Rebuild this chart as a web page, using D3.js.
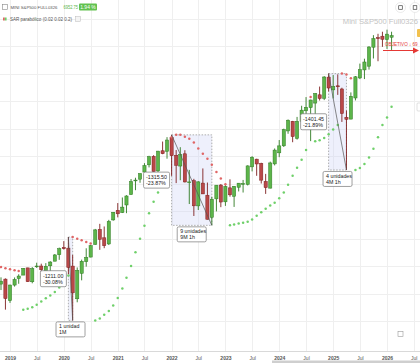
<!DOCTYPE html>
<html>
<head>
<meta charset="utf-8">
<script src="https://cdn.jsdelivr.net/npm/d3@7"></script>
<style>
  body { margin: 0; background: #fff; }
  svg { display: block; font-family: "Liberation Sans", Arial, sans-serif; }
</style>
</head>
<body>
<svg id="chart" width="420" height="363"></svg>
<script>
// monthly candles, Mini S&P500 continuous (back adjusted)
const months = [
  '2018-11', '2018-12',
  '2019-01', '2019-02', '2019-03', '2019-04', '2019-05', '2019-06', '2019-07', '2019-08', '2019-09', '2019-10', '2019-11', '2019-12',
  '2020-01', '2020-02', '2020-03', '2020-04', '2020-05', '2020-06', '2020-07', '2020-08', '2020-09', '2020-10', '2020-11', '2020-12',
  '2021-01', '2021-02', '2021-03', '2021-04', '2021-05', '2021-06', '2021-07', '2021-08', '2021-09', '2021-10', '2021-11', '2021-12',
  '2022-01', '2022-02', '2022-03', '2022-04', '2022-05', '2022-06', '2022-07', '2022-08', '2022-09', '2022-10', '2022-11', '2022-12',
  '2023-01', '2023-02', '2023-03', '2023-04', '2023-05', '2023-06', '2023-07', '2023-08', '2023-09', '2023-10', '2023-11', '2023-12',
  '2024-01', '2024-02', '2024-03', '2024-04', '2024-05', '2024-06', '2024-07', '2024-08', '2024-09', '2024-10', '2024-11', '2024-12',
  '2025-01', '2025-02', '2025-03', '2025-04', '2025-05', '2025-06', '2025-07', '2025-08', '2025-09', '2025-10', '2025-11', '2025-12',
  '2026-01', '2026-02'
];
const open = [
  3342, 3415,
  3102, 3328, 3423, 3473, 3578, 3376, 3596, 3605, 3535, 3608, 3675, 3769,
  3875, 3865, 3604, 3129, 3499, 3668, 3735, 3919, 4138, 4015, 3926, 4275,
  4414, 4382, 4492, 4643, 4843, 4867, 4970, 5076, 5199, 4987, 5280, 5272,
  5470, 5214, 5058, 5236, 4826, 4845, 4479, 4810, 4634, 4313, 4581, 4782,
  4538, 4741, 4619, 4750, 4791, 4791, 5046, 5158, 5096, 4834, 4737, 5089,
  5250, 5352, 5568, 5708, 5460, 5708, 5861, 5907, 5973, 6093, 6043, 6350,
  6165, 6224, 6178, 5766, 5740, 6047, 6338, 6455, 6509, 6785, 6925, 6945,
  6895, 6930
];
const high = [
  3440, 3425,
  3333, 3439, 3485, 3575, 3579, 3589, 3653, 3639, 3647, 3675, 3779, 3873,
  3967, 4026, 3766, 3584, 3698, 3863, 3910, 4144, 4218, 4180, 4276, 4390,
  4520, 4601, 4634, 4869, 4888, 4952, 5100, 5207, 5216, 5278, 5414, 5478,
  5511, 5290, 5332, 5288, 5002, 4872, 4838, 5023, 4818, 4610, 4780, 4796,
  4780, 4865, 4765, 4810, 4856, 5068, 5202, 5164, 5106, 4944, 5122, 5313,
  5436, 5601, 5735, 5714, 5772, 5934, 6060, 6022, 6118, 6213, 6365, 6402,
  6380, 6390, 6196, 5864, 6128, 6366, 6547, 6618, 6800, 6960, 6980, 7010,
  7040, 7010
];
const low = [
  3256, 2971,
  3069, 3306, 3347, 3473, 3375, 3354, 3578, 3447, 3517, 3481, 3675, 3695,
  3844, 3485, 2815, 3078, 3397, 3596, 3731, 3914, 3840, 3864, 3910, 4263,
  4312, 4375, 4373, 4643, 4707, 4815, 4903, 5038, 4976, 4949, 5230, 5165,
  4915, 4810, 4852, 4819, 4506, 4332, 4419, 4653, 4282, 4196, 4399, 4460,
  4479, 4613, 4464, 4689, 4673, 4776, 4980, 4916, 4804, 4653, 4733, 5067,
  5187, 5335, 5527, 5404, 5442, 5644, 5780, 5420, 5752, 6010, 6016, 6143,
  6040, 6092, 5699, 5001, 5738, 6011, 6321, 6322, 6460, 6621, 6581, 6790,
  6760, 6745
];
const close = [
  3385, 3132,
  3329, 3409, 3459, 3571, 3377, 3567, 3605, 3551, 3602, 3663, 3766, 3856,
  3856, 3584, 3215, 3542, 3674, 3730, 3901, 4130, 3993, 3900, 4252, 4386,
  4364, 4461, 4623, 4831, 4854, 4948, 5065, 5193, 4978, 5275, 5237, 5436,
  5208, 5069, 5225, 4827, 4827, 4480, 4828, 4653, 4284, 4576, 4780, 4535,
  4762, 4640, 4764, 4809, 4805, 5060, 5184, 5088, 4853, 4744, 5103, 5290,
  5351, 5586, 5724, 5486, 5708, 5870, 5912, 6018, 6112, 6040, 6352, 6192,
  6215, 6210, 5822, 5737, 6072, 6355, 6459, 6570, 6788, 6910, 6909, 6900,
  6975, 6952.75
];
// parabolic SAR dots (0.02 0.02 0.2)
const sar = [
  3590, 3571,
  3557, 3542, 3532, 2971, 2983, 3007, 3042, 3091, 3136, 3177, 3227, 3293,
  3374, 3469, 4026, 4002, 3978, 3955, 3932, 2815, 2842, 2897, 2950, 3030,
  3139, 3277, 3436, 3604, 3806, 4001, 4191, 4373, 4540, 4675, 4796, 4920,
  5478, 5511, 5511, 5483, 5456, 5399, 5314, 5235, 5163, 5075, 4970, 4877,
  4795, 4196, 4209, 4222, 4235, 4248, 4281, 4336, 4388, 4437, 4483, 4526,
  4589, 4674, 4785, 4918, 5032, 5150, 5291, 6060, 5420, 5434, 5465, 5519,
  5590, 5655, 6402, 6390, 6334, 5001, 5028, 5089, 5181, 5311, 5476, 5656,
  5765, 5919
];
// drawdown measures drawn on the chart
const ddFrom = ['2020-02', '2022-01', '2024-12'];
const ddTo = ['2020-03', '2022-10', '2025-04'];
const ddHigh = [4026, 5511, 6402];
const ddLow = [2815, 4196, 5001];
const ddPoints = ['-1211.00', '-1315.50', '-1401.45'];
const ddPct = ['-30.08%', '-23.87%', '-21.89%'];
const ddUnits = ['1 unidad', '9 unidades', '4 unidades'];
const ddSpan = ['1M', '9M 1h', '4M 1h'];
const gridPrices = [2800, 3200, 3600, 4000, 4400, 4800, 5200, 5600, 6000, 6400, 6800, 7200];
const lastPrice = '6952.75';
const lastChange = '1.94 %';

const W = 420, H = 363, plotBottom = 351;
const parse = d3.utcParse('%Y-%m');
const dates = months.map(parse);

const x = d3.scaleUtc()
    .domain([parse('2019-01'), parse('2026-01')])
    .range([10, 387]);
const y = d3.scaleLinear()
    .domain([2370, 7471])
    .range([plotBottom, 0]);

const svg = d3.select('#chart');
const green = '#5cb54a', greenDark = '#2f7a22';
const red = '#b94848', redDark = '#7e1f1f';

// grid
const tickDates = d3.utcMonth.every(6).range(parse('2018-07'), parse('2026-08'));
const labelDates = tickDates.filter(d => x(d) > 4);
svg.append('g')
    .selectAll('line')
    .data(tickDates)
    .enter().append('line')
    .attr('x1', d => Math.round(x(d)) + 0.5)
    .attr('x2', d => Math.round(x(d)) + 0.5)
    .attr('y1', 0)
    .attr('y2', plotBottom)
    .attr('stroke', '#efefef');

svg.append('g')
    .selectAll('line')
    .data(gridPrices)
    .enter().append('line')
    .attr('x1', 0)
    .attr('x2', W)
    .attr('y1', d => Math.round(y(d)) + 0.5)
    .attr('y2', d => Math.round(y(d)) + 0.5)
    .attr('stroke', '#efefef');

// drawdown boxes (under candles)
const boxes = svg.append('g');
ddFrom.forEach((f, i) => {
    const x0 = x(parse(f)), x1 = x(parse(ddTo[i]));
    const y0 = y(ddHigh[i]), y1 = y(ddLow[i]);
    boxes.append('rect')
        .attr('x', x0).attr('y', y0)
        .attr('width', x1 - x0).attr('height', y1 - y0)
        .attr('fill', 'rgba(205,212,245,0.35)')
        .attr('stroke', '#9a9a9a')
        .attr('stroke-width', 0.8)
        .attr('stroke-dasharray', '1.5,1.5');
});

// candles
const idx = d3.range(months.length);
const cw = 3.2;
const candles = svg.append('g');
candles.selectAll('line')
    .data(idx)
    .enter().append('line')
    .attr('x1', i => x(dates[i]))
    .attr('x2', i => x(dates[i]))
    .attr('y1', i => y(high[i]))
    .attr('y2', i => y(low[i]))
    .attr('stroke', i => close[i] >= open[i] ? greenDark : redDark)
    .attr('stroke-width', 0.9);

candles.selectAll('rect')
    .data(idx)
    .enter().append('rect')
    .attr('x', i => x(dates[i]) - cw / 2)
    .attr('y', i => y(Math.max(open[i], close[i])))
    .attr('width', cw)
    .attr('height', i => Math.max(0.8, Math.abs(y(open[i]) - y(close[i]))))
    .attr('fill', i => close[i] >= open[i] ? green : red)
    .attr('stroke', i => close[i] >= open[i] ? greenDark : redDark)
    .attr('stroke-width', 0.5);

// SAR dots
svg.append('g')
    .selectAll('circle')
    .data(idx)
    .enter().append('circle')
    .attr('cx', i => x(dates[i]))
    .attr('cy', i => y(sar[i]))
    .attr('r', 1.25)
    .attr('fill', i => sar[i] > close[i] ? '#e06666' : '#6fd06a');

// drawdown lines and labels
const ann = svg.append('g').attr('font-size', 5.3).attr('fill', '#222');
ddFrom.forEach((f, i) => {
    const x0 = x(parse(f)), x1 = x(parse(ddTo[i]));
    const y0 = y(ddHigh[i]), y1 = y(ddLow[i]);
    ann.append('line')
        .attr('x1', x0).attr('y1', y0)
        .attr('x2', x1).attr('y2', y1)
        .attr('stroke', '#555')
        .attr('stroke-width', 0.7);

    // value label, left of the box
    const lw = 26, lh = 16;
    const lx = x0 - 2 - lw, ly = (y0 + y1) / 2 - lh / 2;
    ann.append('rect')
        .attr('x', lx).attr('y', ly).attr('width', lw).attr('height', lh)
        .attr('rx', 1.5)
        .attr('fill', '#fff').attr('stroke', '#777').attr('stroke-width', 0.7);
    ann.append('text').attr('x', lx + 2.5).attr('y', ly + 6.8).text(ddPoints[i]);
    ann.append('text').attr('x', lx + 2.5).attr('y', ly + 13).text(ddPct[i]);

    // units label, under the box
    const uw = 29, uh = 15;
    const ux = (x0 + x1) / 2 - uw / 2, uy = y1 + 1.5;
    ann.append('rect')
        .attr('x', ux).attr('y', uy).attr('width', uw).attr('height', uh)
        .attr('rx', 1.5)
        .attr('fill', '#fff').attr('stroke', '#777').attr('stroke-width', 0.7);
    ann.append('text').attr('x', ux + 3).attr('y', uy + 6.3).text(ddUnits[i]);
    ann.append('text').attr('x', ux + 3).attr('y', uy + 12.3).text(ddSpan[i]);
});

// target arrow
const tgt = svg.append('g');
tgt.append('line')
    .attr('x1', 383).attr('x2', 414)
    .attr('y1', 50.5).attr('y2', 50.5)
    .attr('stroke', '#e53935').attr('stroke-width', 1);
tgt.append('path')
    .attr('d', 'M413,47.5 L419,50.5 L413,53.5 Z')
    .attr('fill', '#e53935');
tgt.append('text')
    .attr('x', 385).attr('y', 46)
    .attr('font-size', 4.6)
    .attr('fill', '#e53935')
    .text('OBJETIVO ↓ 69');

// small side tabs at the right edge
svg.append('rect').attr('x', 417).attr('y', 29).attr('width', 4).attr('height', 8)
    .attr('rx', 1).attr('fill', '#f2c14e');
svg.append('rect').attr('x', 417).attr('y', 103).attr('width', 4).attr('height', 8)
    .attr('rx', 1).attr('fill', '#fff').attr('stroke', '#ccc').attr('stroke-width', 0.6);
svg.append('rect').attr('x', 398).attr('y', 331.5).attr('width', 5).attr('height', 5)
    .attr('fill', '#fff').attr('stroke', '#999').attr('stroke-width', 0.6);

// x axis
const axisG = svg.append('g');
axisG.append('rect')
    .attr('x', 0).attr('y', plotBottom)
    .attr('width', W).attr('height', H - plotBottom)
    .attr('fill', '#fff');
axisG.append('line')
    .attr('x1', 0).attr('x2', W)
    .attr('y1', plotBottom + 0.5).attr('y2', plotBottom + 0.5)
    .attr('stroke', '#d9d9d9');
axisG.append('g')
    .attr('transform', `translate(0,${plotBottom})`)
    .call(d3.axisBottom(x)
        .tickValues(labelDates)
        .tickSize(0)
        .tickPadding(5)
        .tickFormat(d => d.getUTCMonth() === 0 ? d3.utcFormat('%Y')(d) : 'Jul'))
    .call(g => g.select('.domain').remove())
    .call(g => g.selectAll('text')
        .attr('font-size', 5)
        .attr('font-family', '"Liberation Sans", Arial, sans-serif')
        .attr('font-weight', d => d.getUTCMonth() === 0 ? 'bold' : 'normal')
        .attr('fill', '#555'));
axisG.append('rect')
    .attr('x', 272).attr('y', 360.5)
    .attr('width', 148).attr('height', 2.5)
    .attr('fill', '#cfcfcf');

// legend, top left (widths fitted to the reference)
const leg = svg.append('g').attr('font-size', 5);
leg.append('rect').attr('x', 2.5).attr('y', 4.5).attr('width', 5).attr('height', 5)
    .attr('fill', '#fff').attr('stroke', '#888').attr('stroke-width', 0.6);
leg.append('text').attr('x', 10.5).attr('y', 8.9).attr('fill', '#555')
    .attr('font-size', 4.4)
    .attr('textLength', 47).attr('lengthAdjust', 'spacingAndGlyphs')
    .text('MINI S&P500 FULL0326');
leg.append('text').attr('x', 63.5).attr('y', 8.9).attr('fill', '#5cb54a')
    .attr('font-size', 4.6)
    .attr('textLength', 14.5).attr('lengthAdjust', 'spacingAndGlyphs')
    .text(lastPrice);
leg.append('rect').attr('x', 79).attr('y', 3.5).attr('width', 18).attr('height', 7)
    .attr('rx', 1).attr('fill', '#62c24f');
leg.append('text').attr('x', 88).attr('y', 8.9).attr('fill', '#fff')
    .attr('text-anchor', 'middle').text(lastChange);
leg.append('rect').attr('x', 3).attr('y', 17.5).attr('width', 1.8).attr('height', 3).attr('fill', '#e06666');
leg.append('rect').attr('x', 4.8).attr('y', 17.5).attr('width', 1.8).attr('height', 3).attr('fill', '#6fd06a');
leg.append('text').attr('x', 10).attr('y', 21.2).attr('fill', '#555')
    .attr('textLength', 62).attr('lengthAdjust', 'spacingAndGlyphs')
    .text('SAR parabólico (0.02 0.02 0.2)');
leg.append('rect').attr('x', 75.5).attr('y', 16.5).attr('width', 5).attr('height', 5)
    .attr('fill', '#f4f4f4').attr('stroke', '#bbb').attr('stroke-width', 0.5);

// watermark title and buttons, top right
svg.append('text')
    .attr('x', 418).attr('y', 23.5)
    .attr('text-anchor', 'end')
    .attr('font-size', 7.6)
    .attr('fill', '#c4c4c4')
    .text('Mini S&P500 Full0326');
[400.5, 415].forEach(cx => {
    svg.append('circle').attr('cx', cx).attr('cy', 7.5).attr('r', 5)
        .attr('fill', '#fff').attr('stroke', '#ddd').attr('stroke-width', 0.6);
    svg.append('rect').attr('x', cx - 1.8).attr('y', 5.7).attr('width', 3.6).attr('height', 3.6)
        .attr('fill', 'none').attr('stroke', '#444').attr('stroke-width', 0.7);
});
</script>
</body>
</html>
